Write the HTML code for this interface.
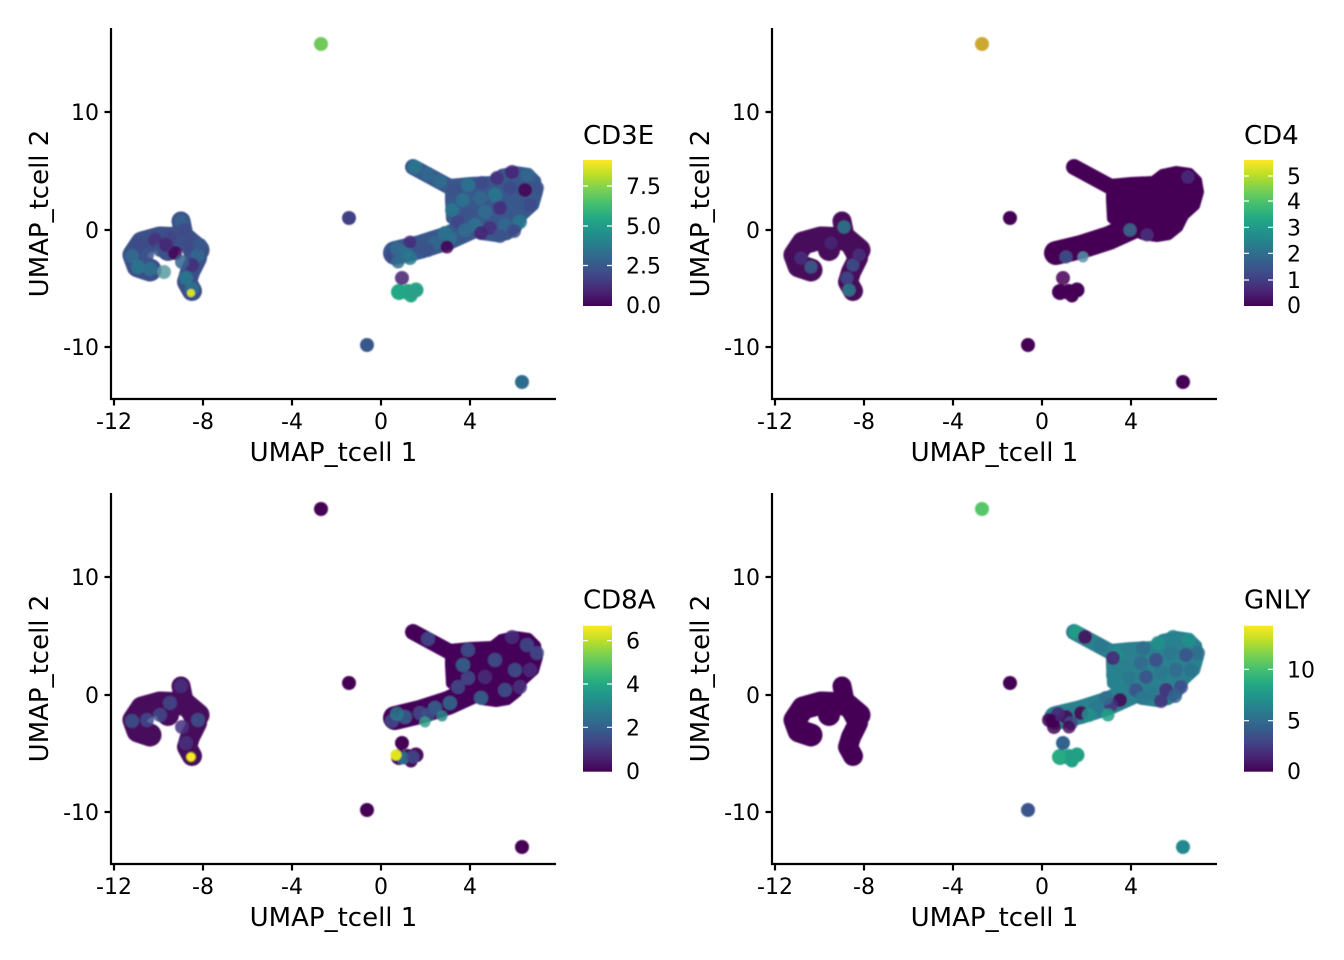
<!DOCTYPE html>
<html>
<head>
<meta charset="utf-8">
<style>
html,body{margin:0;padding:0;background:#fff;}
svg{display:block;}
.t circle{fill-opacity:.85;}
text{fill:#000;}
</style>
</head>
<body>
<svg width="1344" height="960" viewBox="0 0 1344 960" xmlns="http://www.w3.org/2000/svg" font-family="'DejaVu Sans','Liberation Sans',sans-serif">
<defs>
<filter id="soft" x="-5%" y="-5%" width="110%" height="110%"><feGaussianBlur stdDeviation="0.7"/></filter>
<linearGradient id="vir" x1="0" y1="1" x2="0" y2="0">
<stop offset="0" stop-color="#440154"/>
<stop offset="0.1" stop-color="#482475"/>
<stop offset="0.2" stop-color="#414487"/>
<stop offset="0.3" stop-color="#355f8d"/>
<stop offset="0.4" stop-color="#2a788e"/>
<stop offset="0.5" stop-color="#21918c"/>
<stop offset="0.6" stop-color="#22a884"/>
<stop offset="0.7" stop-color="#44bf70"/>
<stop offset="0.8" stop-color="#7ad151"/>
<stop offset="0.9" stop-color="#bddf26"/>
<stop offset="1" stop-color="#fde725"/>
</linearGradient>
<g id="ax" stroke="#000" stroke-width="2.2" fill="none">
<path d="M111,28 V400 M110,399 H556"/>
<path d="M114,399 v6.5 M203,399 v6.5 M292,399 v6.5 M381,399 v6.5 M470,399 v6.5 M111,112 h-6.5 M111,230 h-6.5 M111,347 h-6.5"/>
</g>
<g id="clusR" fill="currentColor" stroke="currentColor" stroke-linecap="round" stroke-linejoin="round">
<polyline points="413,167 450,187" stroke-width="16" fill="none"/>
<path d="M449,183 L470,181 L492,180 L501,173 L515,170 L529,172 L537,180 L539,192 L535,206 L524,216 L518,228 L508,236 L496,238 L482,236 L470,231 L458,225 L450,219 L449,200 Z" stroke-width="8"/>
<polyline points="395,253 420,247 448,238 470,228" stroke-width="24" fill="none"/>
</g>
<g id="clusL" fill="currentColor" stroke="currentColor" stroke-linecap="round" stroke-linejoin="round">
<polyline points="181,221 184,236" stroke-width="19" fill="none"/>
<polyline points="198,250 185,239 160,238 142,243 134,255 138,266 150,270" stroke-width="23" fill="none"/>
<polyline points="190,245 197,258 190,272 187,282 192,291" stroke-width="20" fill="none"/>
<circle cx="168" cy="250" r="11" stroke="none"/>
</g>
<g id="blob" fill="currentColor">
<circle cx="399" cy="292" r="8"/>
<circle cx="408" cy="292" r="8"/>
<circle cx="416" cy="290" r="7.5"/>
<circle cx="411" cy="296" r="6.5"/>
</g>
</defs>

<!-- ================= Panel 1: CD3E ================= -->
<g>
<use href="#ax"/>
<g font-size="22" text-anchor="middle">
<text x="114" y="429">-12</text><text x="203" y="429">-8</text><text x="292" y="429">-4</text><text x="381" y="429">0</text><text x="470" y="429">4</text>
</g>
<g font-size="22" text-anchor="end">
<text x="99" y="120">10</text><text x="99" y="238">0</text><text x="99" y="355">-10</text>
</g>
<text x="333.5" y="461" font-size="26" text-anchor="middle">UMAP_tcell 1</text>
<text transform="translate(48,213.5) rotate(-90)" font-size="26" text-anchor="middle">UMAP_tcell 2</text>

<g filter="url(#soft)">
<g style="color:#38598c"><use href="#clusR"/></g>
<g style="color:#3b5088"><use href="#clusL"/></g>
<g style="color:#25a584"><use href="#blob"/></g>
<g class="t">
<circle cx="415" cy="167" r="7" fill="#2a788e"/>
<circle cx="428" cy="174" r="7" fill="#31688e"/>
<circle cx="440" cy="181" r="7" fill="#2f6c8e"/>
<circle cx="455" cy="190" r="7" fill="#3b528b"/>
<circle cx="468" cy="185" r="7" fill="#2c728e"/>
<circle cx="482" cy="183" r="7" fill="#3e4a89"/>
<circle cx="497" cy="178" r="7" fill="#46307e"/>
<circle cx="512" cy="172" r="7" fill="#482475"/>
<circle cx="528" cy="175" r="7" fill="#31688e"/>
<circle cx="537" cy="188" r="7" fill="#3b528b"/>
<circle cx="525" cy="190" r="7" fill="#440154"/>
<circle cx="510" cy="188" r="7" fill="#3e4a89"/>
<circle cx="495" cy="195" r="7" fill="#2a788e"/>
<circle cx="480" cy="198" r="7" fill="#31688e"/>
<circle cx="463" cy="200" r="7" fill="#2c728e"/>
<circle cx="452" cy="210" r="7" fill="#2a788e"/>
<circle cx="468" cy="213" r="7" fill="#3b528b"/>
<circle cx="485" cy="212" r="7" fill="#2f6c8e"/>
<circle cx="500" cy="208" r="7" fill="#472d7b"/>
<circle cx="515" cy="205" r="7" fill="#38598c"/>
<circle cx="530" cy="205" r="7" fill="#3e4a89"/>
<circle cx="520" cy="222" r="7" fill="#2a788e"/>
<circle cx="505" cy="225" r="7" fill="#31688e"/>
<circle cx="490" cy="228" r="7" fill="#46307e"/>
<circle cx="475" cy="225" r="7" fill="#2c728e"/>
<circle cx="458" cy="222" r="7" fill="#414487"/>
<circle cx="500" cy="236" r="7" fill="#3b528b"/>
<circle cx="481" cy="233" r="7" fill="#482475"/>
<circle cx="514" cy="231" r="7" fill="#3e4a89"/>
<circle cx="465" cy="230" r="7" fill="#2f6c8e"/>
<circle cx="450" cy="238" r="7" fill="#2c728e"/>
<circle cx="435" cy="243" r="7" fill="#31688e"/>
<circle cx="420" cy="248" r="7" fill="#3b528b"/>
<circle cx="405" cy="252" r="7" fill="#2a788e"/>
<circle cx="392" cy="256" r="7" fill="#3e4a89"/>
<circle cx="397" cy="249" r="7" fill="#2f6c8e"/>
<circle cx="410" cy="258" r="7" fill="#2a788e"/>
<circle cx="428" cy="250" r="7" fill="#3b528b"/>
<circle cx="445" cy="233" r="7" fill="#2c728e"/>
<circle cx="410" cy="242" r="6.5" fill="#472d7b"/>
<circle cx="447" cy="247" r="6.5" fill="#440154"/>
<circle cx="398" cy="262" r="6.5" fill="#2f6c8e"/>
<!-- left -->
<circle cx="181" cy="221" r="7" fill="#35608d"/>
<circle cx="184" cy="230" r="7" fill="#3e4a89"/>
<circle cx="170" cy="238" r="7" fill="#414487"/>
<circle cx="155" cy="240" r="7" fill="#46307e"/>
<circle cx="140" cy="245" r="7" fill="#3e4a89"/>
<circle cx="132" cy="256" r="7" fill="#2f6c8e"/>
<circle cx="138" cy="267" r="7" fill="#2a788e"/>
<circle cx="150" cy="269" r="7" fill="#2c728e"/>
<circle cx="160" cy="250" r="7" fill="#3b528b"/>
<circle cx="175" cy="253" r="7" fill="#440154"/>
<circle cx="190" cy="245" r="7" fill="#3e4a89"/>
<circle cx="198" cy="255" r="7" fill="#31688e"/>
<circle cx="192" cy="265" r="7" fill="#472d7b"/>
<circle cx="182" cy="262" r="7" fill="#35608d"/>
<circle cx="186" cy="278" r="7" fill="#2a788e"/>
<circle cx="192" cy="289" r="7" fill="#2c728e"/>
<circle cx="147" cy="255" r="7" fill="#3b528b"/>
<circle cx="200" cy="245" r="7" fill="#38598c"/>
<circle cx="166" cy="245" r="7" fill="#482475"/>
<circle cx="164" cy="272" r="7" fill="#5a9aa0" fill-opacity=".5"/>
<!-- blob + dots -->
<circle cx="398" cy="292" r="7" fill="#22a884"/>
<circle cx="414" cy="291" r="7" fill="#2a9f88"/>
<circle cx="402" cy="278" r="7" fill="#471f6f"/>
</g>
<circle cx="321" cy="44" r="7" fill="#72c95a"/>
<circle cx="349" cy="218" r="7" fill="#424186"/>
<circle cx="367" cy="345" r="7" fill="#38598c"/>
<circle cx="522" cy="382" r="7" fill="#2f6c8e"/>
<circle cx="191" cy="293" r="4" fill="#d9e021"/>
</g>

<rect x="583" y="160" width="29" height="146" fill="url(#vir)"/>
<g stroke="#fff" stroke-width="1.2">
<path d="M583,186 h5 M607,186 h5 M583,226 h5 M607,226 h5 M583,265.5 h5 M607,265.5 h5"/>
</g>
<text x="583" y="144" font-size="26">CD3E</text>
<g font-size="22">
<text x="626" y="194">7.5</text><text x="626" y="234">5.0</text><text x="626" y="273.5">2.5</text><text x="626" y="313">0.0</text>
</g>
</g>

<!-- ================= Panel 2: CD4 ================= -->
<g transform="translate(661,0)">
<use href="#ax"/>
<g font-size="22" text-anchor="middle">
<text x="114" y="429">-12</text><text x="203" y="429">-8</text><text x="292" y="429">-4</text><text x="381" y="429">0</text><text x="470" y="429">4</text>
</g>
<g font-size="22" text-anchor="end">
<text x="99" y="120">10</text><text x="99" y="238">0</text><text x="99" y="355">-10</text>
</g>
<text x="333.5" y="461" font-size="26" text-anchor="middle">UMAP_tcell 1</text>
<text transform="translate(48,213.5) rotate(-90)" font-size="26" text-anchor="middle">UMAP_tcell 2</text>

<g filter="url(#soft)">
<g style="color:#450357"><use href="#clusR"/></g>
<g style="color:#46075a"><use href="#clusL"/></g>
<g style="color:#450357"><use href="#blob"/></g>
<g class="t">
<circle cx="183" cy="227" r="6.5" fill="#2a7b8e"/>
<circle cx="188" cy="290" r="6.5" fill="#2c7f8e"/>
<circle cx="150" cy="267" r="6.5" fill="#3a5f8c"/>
<circle cx="192" cy="265" r="6.5" fill="#3b528b"/>
<circle cx="198" cy="255" r="6.5" fill="#46307e"/>
<circle cx="186" cy="278" r="6.5" fill="#3e4a89" fill-opacity=".7"/>
<circle cx="140" cy="258" r="6.5" fill="#472f7d"/>
<circle cx="170" cy="243" r="6.5" fill="#482475"/>
<circle cx="469" cy="230" r="6.5" fill="#3a6d8e"/>
<circle cx="422" cy="257" r="5.5" fill="#5790ac"/>
<circle cx="405" cy="257" r="6.5" fill="#3b528b"/>
<circle cx="527" cy="177" r="6.5" fill="#472f7d"/>
<circle cx="486" cy="235" r="6.5" fill="#46307e"/>
<circle cx="402" cy="278" r="7" fill="#440154"/>
</g>
<circle cx="321" cy="44" r="7" fill="#cba832"/>
<circle cx="349" cy="218" r="7" fill="#440154"/>
<circle cx="367" cy="345" r="7" fill="#440154"/>
<circle cx="522" cy="382" r="7" fill="#440154"/>
</g>

<rect x="583" y="160" width="29" height="146" fill="url(#vir)"/>
<g stroke="#fff" stroke-width="1.2">
<path d="M583,176 h5 M607,176 h5 M583,201 h5 M607,201 h5 M583,227.3 h5 M607,227.3 h5 M583,253.3 h5 M607,253.3 h5 M583,280 h5 M607,280 h5"/>
</g>
<text x="583" y="144" font-size="26">CD4</text>
<g font-size="22">
<text x="626" y="184">5</text><text x="626" y="209">4</text><text x="626" y="235.3">3</text><text x="626" y="261.3">2</text><text x="626" y="288">1</text><text x="626" y="313">0</text>
</g>
</g>

<!-- ================= Panel 3: CD8A ================= -->
<g transform="translate(0,465)">
<use href="#ax"/>
<g font-size="22" text-anchor="middle">
<text x="114" y="429">-12</text><text x="203" y="429">-8</text><text x="292" y="429">-4</text><text x="381" y="429">0</text><text x="470" y="429">4</text>
</g>
<g font-size="22" text-anchor="end">
<text x="99" y="120">10</text><text x="99" y="238">0</text><text x="99" y="355">-10</text>
</g>
<text x="333.5" y="461" font-size="26" text-anchor="middle">UMAP_tcell 1</text>
<text transform="translate(48,213.5) rotate(-90)" font-size="26" text-anchor="middle">UMAP_tcell 2</text>

<g filter="url(#soft)">
<g style="color:#45065a"><use href="#clusR"/></g>
<g style="color:#46085c"><use href="#clusL"/></g>
<g style="color:#46085c"><use href="#blob"/></g>
<g class="t">
<circle cx="428" cy="174" r="7" fill="#3e4a89"/>
<circle cx="468" cy="185" r="7" fill="#3b528b"/>
<circle cx="512" cy="172" r="7" fill="#472f7d"/>
<circle cx="537" cy="188" r="7" fill="#3e4a89"/>
<circle cx="495" cy="195" r="7" fill="#3b528b"/>
<circle cx="463" cy="200" r="7" fill="#31688e"/>
<circle cx="468" cy="213" r="7" fill="#3e4a89"/>
<circle cx="515" cy="205" r="7" fill="#3b528b"/>
<circle cx="530" cy="205" r="7" fill="#472f7d"/>
<circle cx="505" cy="225" r="7" fill="#3b528b"/>
<circle cx="458" cy="222" r="7" fill="#3e4a89"/>
<circle cx="481" cy="233" r="7" fill="#31688e"/>
<circle cx="450" cy="238" r="7" fill="#2f6c8e"/>
<circle cx="435" cy="243" r="7" fill="#31688e"/>
<circle cx="420" cy="248" r="7" fill="#3e4a89"/>
<circle cx="405" cy="252" r="7" fill="#35608d"/>
<circle cx="392" cy="256" r="7" fill="#3e4a89"/>
<circle cx="397" cy="249" r="7" fill="#2a788e"/>
<circle cx="428" cy="250" r="7" fill="#3b528b"/>
<circle cx="425" cy="257" r="5.5" fill="#35a08a"/>
<circle cx="442" cy="251" r="5.5" fill="#2c8a8b"/>
<circle cx="485" cy="212" r="7" fill="#472d7b"/>
<circle cx="520" cy="222" r="7" fill="#46307e"/>
<circle cx="527" cy="180" r="7" fill="#3e4a89"/>
<!-- left -->
<circle cx="170" cy="238" r="7" fill="#3e4a89"/>
<circle cx="132" cy="256" r="7" fill="#3b528b"/>
<circle cx="160" cy="250" r="7" fill="#3e4a89"/>
<circle cx="198" cy="255" r="7" fill="#3b528b"/>
<circle cx="182" cy="262" r="7" fill="#46307e"/>
<circle cx="147" cy="255" r="7" fill="#3e4a89"/>
<circle cx="186" cy="278" r="7" fill="#472f7d"/>
<circle cx="181" cy="221" r="7" fill="#472f7d"/>
<!-- blob -->
<circle cx="403" cy="293" r="6.5" fill="#2a788e"/>
<circle cx="413" cy="292" r="6.5" fill="#3e4a89"/>
</g>
<circle cx="396" cy="290" r="5.5" fill="#e2e41c"/>
<circle cx="402" cy="278" r="7" fill="#440154"/>
<circle cx="191" cy="292" r="5" fill="#fde725" stroke="#5a4a20" stroke-width="1"/>
<circle cx="321" cy="44" r="7" fill="#440154"/>
<circle cx="349" cy="218" r="7" fill="#440154"/>
<circle cx="367" cy="345" r="7" fill="#440154"/>
<circle cx="522" cy="382" r="7" fill="#440154"/>
</g>

<rect x="583" y="160.7" width="29" height="146" fill="url(#vir)"/>
<g stroke="#fff" stroke-width="1.2">
<path d="M583,175.7 h5 M607,175.7 h5 M583,219 h5 M607,219 h5 M583,262.3 h5 M607,262.3 h5"/>
</g>
<text x="583" y="143.5" font-size="26">CD8A</text>
<g font-size="22">
<text x="626" y="183.7">6</text><text x="626" y="227">4</text><text x="626" y="270.3">2</text><text x="626" y="314">0</text>
</g>
</g>

<!-- ================= Panel 4: GNLY ================= -->
<g transform="translate(661,465)">
<use href="#ax"/>
<g font-size="22" text-anchor="middle">
<text x="114" y="429">-12</text><text x="203" y="429">-8</text><text x="292" y="429">-4</text><text x="381" y="429">0</text><text x="470" y="429">4</text>
</g>
<g font-size="22" text-anchor="end">
<text x="99" y="120">10</text><text x="99" y="238">0</text><text x="99" y="355">-10</text>
</g>
<text x="333.5" y="461" font-size="26" text-anchor="middle">UMAP_tcell 1</text>
<text transform="translate(48,213.5) rotate(-90)" font-size="26" text-anchor="middle">UMAP_tcell 2</text>

<g filter="url(#soft)">
<g style="color:#2a808e"><use href="#clusR"/></g>
<g style="color:#450357"><use href="#clusL"/></g>
<g style="color:#22a085"><use href="#blob"/></g>
<g class="t">
<circle cx="415" cy="167" r="7" fill="#22a085"/>
<circle cx="424" cy="172" r="7" fill="#46085c"/>
<circle cx="440" cy="181" r="7" fill="#2a788e"/>
<circle cx="455" cy="190" r="7" fill="#21918c"/>
<circle cx="482" cy="183" r="7" fill="#2f6c8e"/>
<circle cx="497" cy="178" r="7" fill="#21918c"/>
<circle cx="512" cy="172" r="7" fill="#25838e"/>
<circle cx="528" cy="175" r="7" fill="#21918c"/>
<circle cx="537" cy="188" r="7" fill="#2f6c8e"/>
<circle cx="525" cy="190" r="7" fill="#3b528b"/>
<circle cx="510" cy="188" r="7" fill="#2a788e"/>
<circle cx="495" cy="195" r="7" fill="#3e4a89"/>
<circle cx="480" cy="198" r="7" fill="#31688e"/>
<circle cx="452" cy="193" r="7" fill="#482475"/>
<circle cx="452" cy="210" r="7" fill="#25838e"/>
<circle cx="468" cy="213" r="7" fill="#2a788e"/>
<circle cx="485" cy="212" r="7" fill="#3b528b"/>
<circle cx="500" cy="208" r="7" fill="#2a788e"/>
<circle cx="515" cy="205" r="7" fill="#31688e"/>
<circle cx="530" cy="205" r="7" fill="#2c728e"/>
<circle cx="520" cy="222" r="7" fill="#3e4a89"/>
<circle cx="505" cy="225" r="7" fill="#472d7b"/>
<circle cx="490" cy="228" r="7" fill="#2a788e"/>
<circle cx="475" cy="225" r="7" fill="#3b528b"/>
<circle cx="458" cy="222" r="7" fill="#25838e"/>
<circle cx="500" cy="236" r="7" fill="#46307e"/>
<circle cx="481" cy="233" r="7" fill="#2a788e"/>
<circle cx="514" cy="231" r="7" fill="#35608d"/>
<circle cx="459" cy="235" r="7" fill="#440154"/>
<circle cx="450" cy="240" r="7" fill="#46307e"/>
<circle cx="435" cy="243" r="7" fill="#2a788e"/>
<circle cx="420" cy="248" r="7" fill="#440154"/>
<circle cx="405" cy="252" r="7" fill="#440154"/>
<circle cx="392" cy="256" r="7" fill="#440154"/>
<circle cx="397" cy="249" r="7" fill="#482475"/>
<circle cx="410" cy="258" r="7" fill="#3e4a89"/>
<circle cx="428" cy="250" r="7" fill="#21918c"/>
<circle cx="445" cy="233" r="7" fill="#2f6c8e"/>
<circle cx="447" cy="250" r="6.5" fill="#22a085"/>
<circle cx="388" cy="255" r="7" fill="#440154"/>
<circle cx="393" cy="262" r="7" fill="#440154"/>
<circle cx="408" cy="262" r="6.5" fill="#46085c"/>
<circle cx="398" cy="292" r="7" fill="#27ad81"/>
</g>
<circle cx="402" cy="278" r="7" fill="#33638d"/>
<circle cx="321" cy="44" r="7" fill="#56c667"/>
<circle cx="349" cy="218" r="7" fill="#440154"/>
<circle cx="367" cy="345" r="7" fill="#3a548c"/>
<circle cx="522" cy="382" r="7" fill="#23898e"/>
</g>

<rect x="583" y="160.7" width="29" height="146" fill="url(#vir)"/>
<g stroke="#fff" stroke-width="1.2">
<path d="M583,204.3 h5 M607,204.3 h5 M583,255.7 h5 M607,255.7 h5"/>
</g>
<text x="583" y="143.5" font-size="26">GNLY</text>
<g font-size="22">
<text x="626" y="212.3">10</text><text x="626" y="263.7">5</text><text x="626" y="314">0</text>
</g>
</g>
</svg>
</body>
</html>
